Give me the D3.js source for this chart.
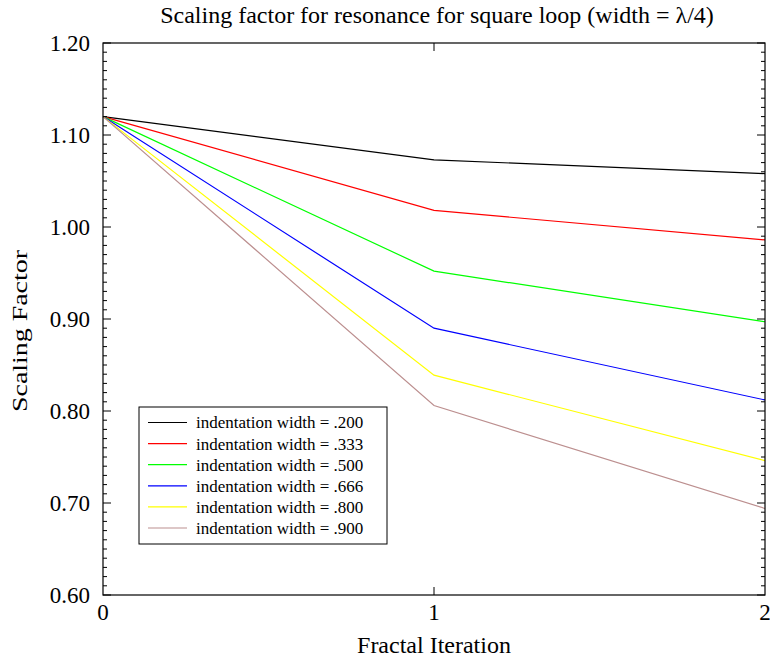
<!DOCTYPE html>
<html>
<head>
<meta charset="utf-8">
<script src="https://cdn.jsdelivr.net/npm/d3@7"></script>
<style>
  body { margin: 0; background: #fff; }
  svg { display: block; font-family: "Liberation Serif", "DejaVu Serif", serif; }
</style>
</head>
<body>
<div id="chart"></div>
<script>
// data
const iterations = [0, 1, 2];
const widths = ['.200', '.333', '.500', '.666', '.800', '.900'];
const colors = ['#000000', '#ff0000', '#00ff00', '#0000ff', '#ffff00', '#bc8f8f'];
const w200 = [1.12, 1.073, 1.058];
const w333 = [1.12, 1.018, 0.986];
const w500 = [1.12, 0.952, 0.897];
const w666 = [1.12, 0.890, 0.812];
const w800 = [1.12, 0.839, 0.746];
const w900 = [1.12, 0.806, 0.694];
const series = [w200, w333, w500, w666, w800, w900];
const yTicks = [0.6, 0.7, 0.8, 0.9, 1.0, 1.1, 1.2];

const width = 770, height = 660;
const margin = { top: 43, right: 5, bottom: 65, left: 103 };

const svg = d3.select('#chart').append('svg')
  .attr('width', width)
  .attr('height', height);

const x = d3.scaleLinear().domain([0, 2]).range([margin.left, width - margin.right]);
const y = d3.scaleLinear().domain([0.6, 1.2]).range([height - margin.bottom, margin.top]);

// lines
const line = d3.line()
  .x((d, i) => x(iterations[i]))
  .y(d => y(d));

svg.append('g').selectAll('path')
  .data(series)
  .enter()
  .append('path')
  .attr('d', line)
  .attr('fill', 'none')
  .attr('stroke', (d, i) => colors[i])
  .attr('stroke-width', 1.2);

// minor ticks every 0.01, drawn inward on both sides
const minor = d3.range(60, 121).map(v => v / 100);
const frame = svg.append('g').attr('stroke', '#000');
minor.forEach(v => {
  const major = Math.round(v * 100) % 10 === 0;
  const len = major ? 8 : 4;
  frame.append('line').attr('x1', x(0)).attr('x2', x(0) + len).attr('y1', y(v)).attr('y2', y(v));
  frame.append('line').attr('x1', x(2)).attr('x2', x(2) - len).attr('y1', y(v)).attr('y2', y(v));
});
frame.append('line').attr('x1', x(1)).attr('x2', x(1)).attr('y1', y(0.6)).attr('y2', y(0.6) - 8);
frame.append('line').attr('x1', x(1)).attr('x2', x(1)).attr('y1', y(1.2)).attr('y2', y(1.2) + 8);

svg.append('rect')
  .attr('x', x(0)).attr('y', y(1.2))
  .attr('width', x(2) - x(0)).attr('height', y(0.6) - y(1.2))
  .attr('fill', 'none').attr('stroke', '#000').attr('stroke-width', 1.2);

// tick labels
svg.append('g').selectAll('text')
  .data(yTicks)
  .enter()
  .append('text')
  .attr('x', x(0) - 13)
  .attr('y', d => y(d))
  .attr('dy', '0.35em')
  .attr('text-anchor', 'end')
  .style('font-size', '23px')
  .text(d => d.toFixed(2));

svg.append('g').selectAll('text')
  .data(iterations)
  .enter()
  .append('text')
  .attr('x', d => x(d))
  .attr('y', 620)
  .attr('text-anchor', 'middle')
  .style('font-size', '23px')
  .text(d => d);

// titles
svg.append('text')
  .attr('x', 437).attr('y', 23)
  .attr('text-anchor', 'middle')
  .style('font-size', '24px')
  .text('Scaling factor for resonance for square loop (width = λ/4)');

svg.append('text')
  .attr('x', x(1)).attr('y', 653)
  .attr('text-anchor', 'middle')
  .style('font-size', '24px')
  .text('Fractal Iteration');

svg.append('text')
  .attr('transform', 'translate(27,331) rotate(-90)')
  .attr('text-anchor', 'middle')
  .attr('textLength', 162)
  .attr('lengthAdjust', 'spacingAndGlyphs')
  .style('font-size', '22px')
  .text('Scaling Factor');

// legend
const legend = svg.append('g').attr('transform', 'translate(139,407)');
legend.append('rect')
  .attr('width', 248).attr('height', 137)
  .attr('fill', '#fff').attr('stroke', '#000').attr('stroke-width', 1);

const rows = legend.selectAll('g.row')
  .data(widths)
  .enter()
  .append('g')
  .attr('class', 'row')
  .attr('transform', (d, i) => `translate(0,${15.5 + i * 21.1})`);

rows.append('line')
  .attr('x1', 9).attr('x2', 48)
  .attr('stroke', (d, i) => colors[i])
  .attr('stroke-width', 1.2);

rows.append('text')
  .attr('x', 57)
  .attr('dy', '0.35em')
  .style('font-size', '17px')
  .text(d => `indentation width = ${d}`);
</script>
</body>
</html>
